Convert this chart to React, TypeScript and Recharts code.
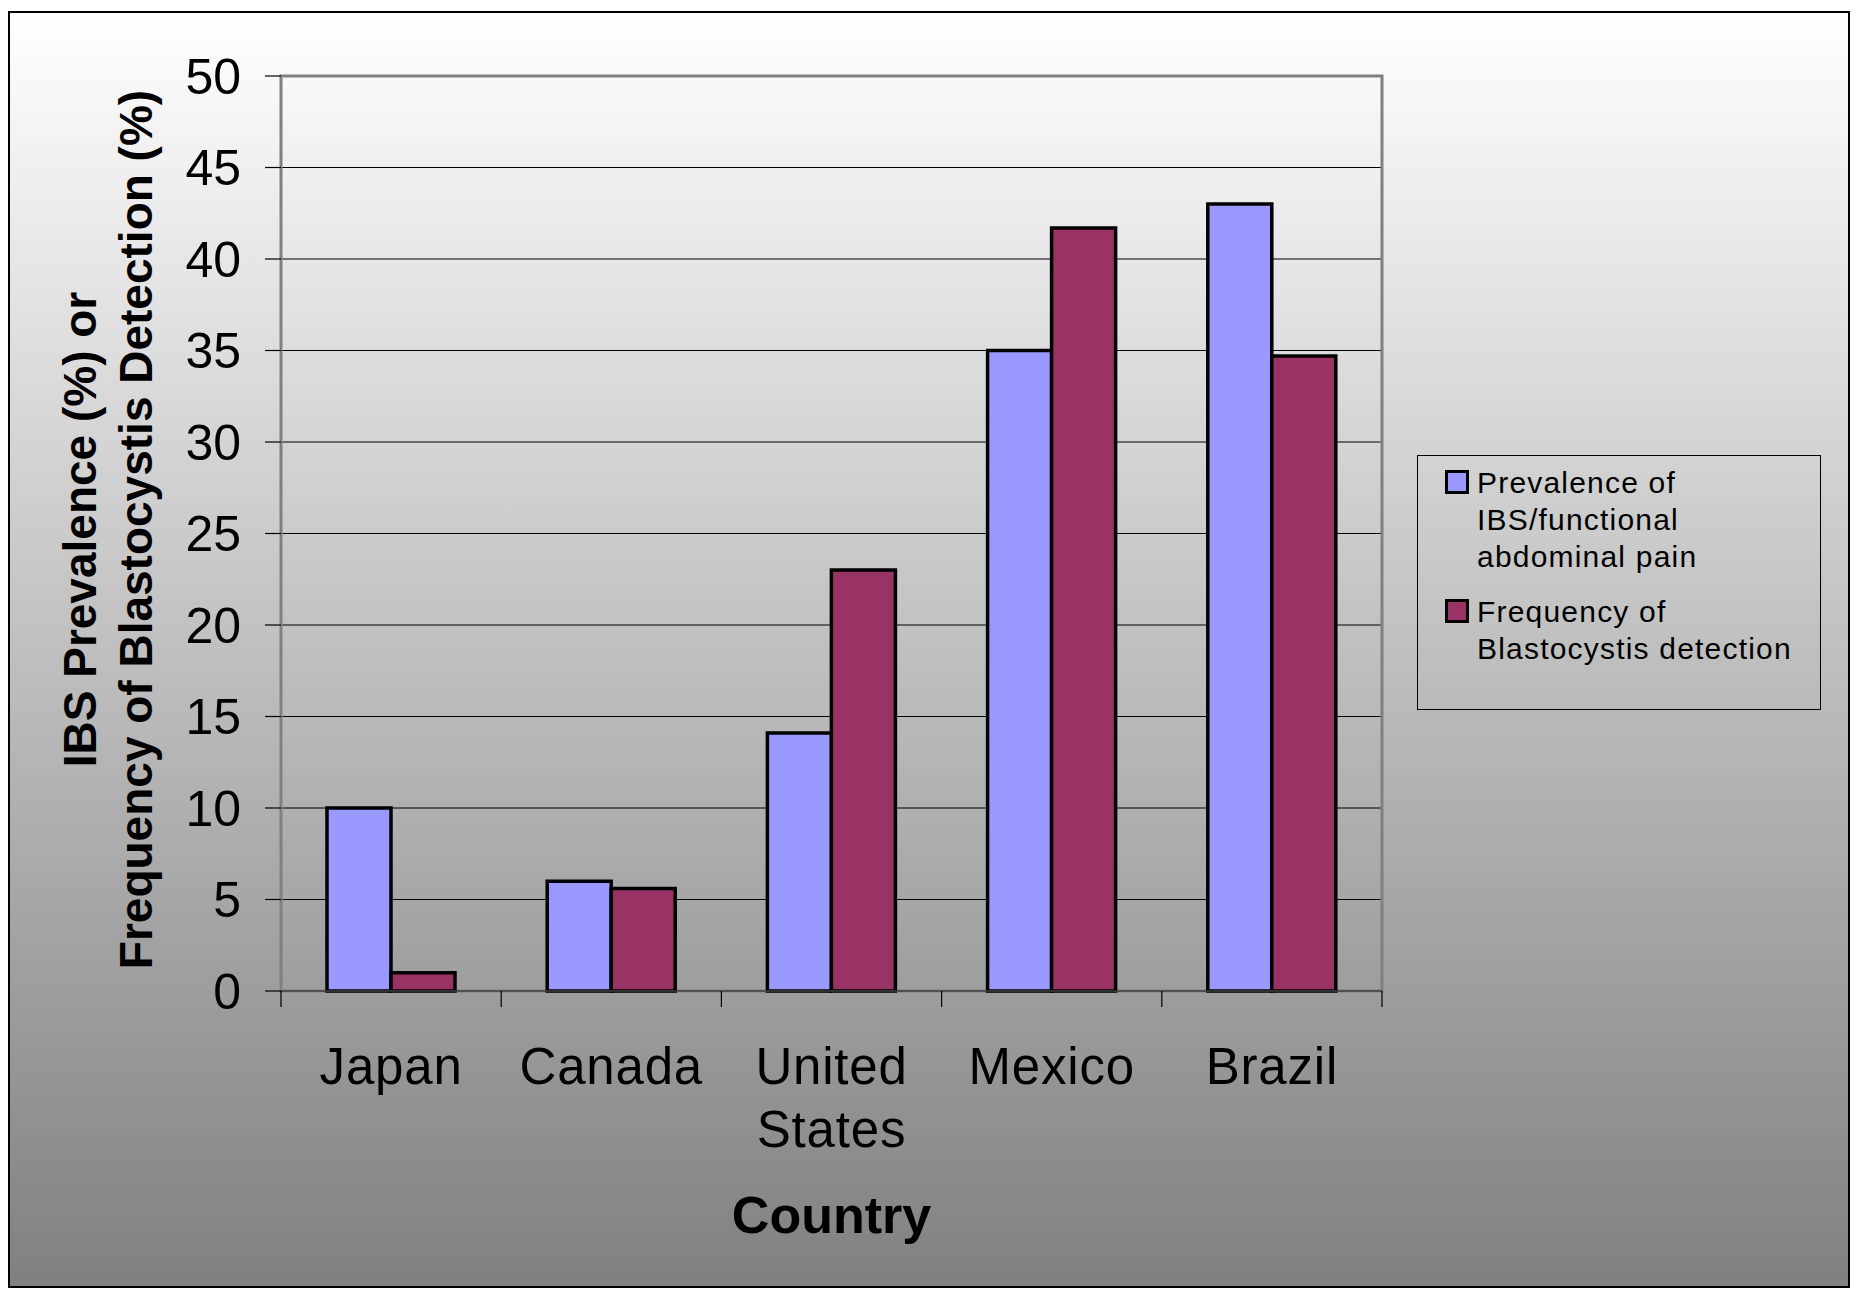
import React from 'react';
import {
  BarChart,
  Bar,
  XAxis,
  YAxis,
  CartesianGrid,
  Legend,
  ReferenceArea,
} from 'recharts';

// ---- data ----
const categories = ['Japan', 'Canada', 'United States', 'Mexico', 'Brazil'];
const categoryLabelLines = [['Japan'], ['Canada'], ['United', 'States'], ['Mexico'], ['Brazil']];
const ibsPrevalence = [10, 6, 14.1, 35, 43];
const blastocystisFrequency = [1, 5.6, 23, 41.7, 34.7];
const yTicks = [0, 5, 10, 15, 20, 25, 30, 35, 40, 45, 50];
const seriesNames = [
  'Prevalence of IBS/functional abdominal pain',
  'Frequency of Blastocystis detection',
];
const seriesColors = ['#9999FF', '#993366'];
const legendLines = [
  ['Prevalence of', 'IBS/functional', 'abdominal pain'],
  ['Frequency of', 'Blastocystis detection'],
];
const yLabelLines = ['IBS Prevalence (%) or', 'Frequency of Blastocystis Detection (%)'];
const xLabel = 'Country';

const chartData = categories.map((c, i) => ({
  country: c,
  ibs: ibsPrevalence[i],
  blasto: blastocystisFrequency[i],
}));

// ---- layout constants ----
const W = 1858;
const H = 1299;
const PLOT_LEFT = 281;
const PLOT_RIGHT = 1382;
const PLOT_TOP = 76;
const PLOT_BOTTOM = 991;
const BAND = (PLOT_RIGHT - PLOT_LEFT) / categories.length;
const FONT = '"Liberation Sans", Arial, Helvetica, sans-serif';

const XTick = (props: any) => {
  const { x, y, payload, index } = props;
  const idx = payload && typeof payload.index === 'number' ? payload.index : index;
  const lines = categoryLabelLines[idx] || [String(payload.value)];
  const left = x - BAND / 2;
  const right = x + BAND / 2;
  return (
    <g>
      <line x1={left} y1={y} x2={left} y2={y + 16} stroke="#000" strokeWidth={1.2} />
      {idx === categories.length - 1 && (
        <line x1={right} y1={y} x2={right} y2={y + 16} stroke="#000" strokeWidth={1.2} />
      )}
      <text
        x={x}
        y={y + 93}
        textAnchor="middle"
        fontSize={51}
        fill="#000"
        fontFamily={FONT}
        letterSpacing={0.8}
      >
        {lines.map((l: string, i: number) => (
          <tspan key={i} x={x} dy={i === 0 ? 0 : 63}>
            {l}
          </tspan>
        ))}
      </text>
    </g>
  );
};

const YLabel = (props: any) => {
  const vb = props.viewBox || { x: 81, y: PLOT_TOP, width: 200, height: PLOT_BOTTOM - PLOT_TOP };
  const cy = vb.y + vb.height / 2 - 4;
  const x1 = vb.x + 15;
  const x2 = vb.x + 71;
  return (
    <g>
      <text
        x={x1}
        y={cy}
        transform={`rotate(-90 ${x1} ${cy})`}
        textAnchor="middle"
        fontSize={46}
        fontWeight="bold"
        fill="#000"
        fontFamily={FONT}
      >
        {yLabelLines[0]}
      </text>
      <text
        x={x2}
        y={cy}
        transform={`rotate(-90 ${x2} ${cy})`}
        textAnchor="middle"
        fontSize={46}
        fontWeight="bold"
        fill="#000"
        fontFamily={FONT}
      >
        {yLabelLines[1]}
      </text>
    </g>
  );
};

const XLabel = (props: any) => {
  const vb = props.viewBox || { x: PLOT_LEFT, y: PLOT_BOTTOM, width: PLOT_RIGHT - PLOT_LEFT, height: 280 };
  const cx = vb.x + vb.width / 2;
  return (
    <text
      x={cx}
      y={vb.y + 242}
      textAnchor="middle"
      fontSize={52}
      fontWeight="bold"
      fill="#000"
      fontFamily={FONT}
    >
      {xLabel}
    </text>
  );
};

const LegendContent = (props: any) => {
  const payload = props.payload || [];
  const items = seriesNames.map((name, i) => {
    const entry = payload.find((p: any) => p.value === name);
    return { name, color: entry && entry.color ? entry.color : seriesColors[i], lines: legendLines[i] };
  });
  return (
    <div
      style={{
        boxSizing: 'border-box',
        width: 404,
        height: 255,
        border: '1px solid #000',
        paddingTop: 8,
        fontFamily: FONT,
        fontSize: 30,
        lineHeight: '37px',
        letterSpacing: '1.2px',
        color: '#000',
      }}
    >
      {items.map((item, i) => (
        <div key={i} style={{ position: 'relative', paddingLeft: 59, marginBottom: i === 0 ? 18 : 0 }}>
          <div
            style={{
              position: 'absolute',
              left: 27,
              top: 6,
              width: 24,
              height: 24,
              boxSizing: 'border-box',
              border: '3px solid #000',
              background: item.color,
            }}
          />
          {item.lines.map((l: string, j: number) => (
            <div key={j} style={{ whiteSpace: 'nowrap' }}>
              {l}
            </div>
          ))}
        </div>
      ))}
    </div>
  );
};

export default function App() {
  return (
    <div style={{ position: 'absolute', left: 0, top: 0, width: W, height: H, background: '#fff' }}>
      <div
        style={{
          position: 'absolute',
          left: 8,
          top: 11,
          width: 1842,
          height: 1277,
          boxSizing: 'border-box',
          border: '2px solid #000',
          background: 'linear-gradient(to bottom, #ffffff 0%, #808080 100%)',
        }}
      />
      <div style={{ position: 'absolute', left: 0, top: 0 }}>
        <BarChart
          width={W}
          height={H}
          data={chartData}
          margin={{ top: PLOT_TOP, right: W - PLOT_RIGHT, bottom: 28, left: 81 }}
          barGap={0}
          style={{ fontFamily: FONT }}
        >
          <CartesianGrid vertical={false} stroke="#000" strokeWidth={1.2} />
          <ReferenceArea
            y1={0}
            y2={50}
            fill="none"
            stroke="#808080"
            strokeWidth={3}
            ifOverflow="visible"
          />
          <XAxis
            dataKey="country"
            height={280}
            axisLine={{ stroke: '#404040', strokeWidth: 1.5 }}
            tickLine={false}
            tickSize={0}
            tickMargin={0}
            tick={<XTick />}
            interval={0}
            label={<XLabel />}
          />
          <YAxis
            width={200}
            domain={[0, 50]}
            ticks={yTicks}
            interval={0}
            axisLine={false}
            tickLine={{ stroke: '#000', strokeWidth: 1.2 }}
            tickSize={16}
            tickMargin={24}
            tick={{ fontSize: 50, fill: '#000', fontFamily: FONT }}
            label={<YLabel />}
          />
          <Legend
            layout="horizontal"
            verticalAlign="middle"
            align="center"
            content={<LegendContent />}
            wrapperStyle={{ position: 'absolute', left: 1417, top: 455, width: 404, height: 255 }}
          />
          <Bar
            dataKey="ibs"
            name={seriesNames[0]}
            fill={seriesColors[0]}
            stroke="#000"
            strokeWidth={3.5}
            barSize={64}
            isAnimationActive={false}
          />
          <Bar
            dataKey="blasto"
            name={seriesNames[1]}
            fill={seriesColors[1]}
            stroke="#000"
            strokeWidth={3.5}
            barSize={64}
            isAnimationActive={false}
          />
        </BarChart>
      </div>
    </div>
  );
}
